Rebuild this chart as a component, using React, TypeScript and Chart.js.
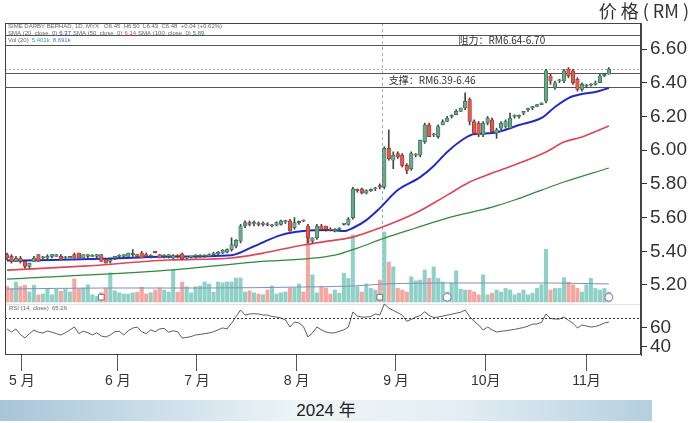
import React, { useEffect, useRef } from 'react';
import { Chart, registerables } from 'chart.js';

Chart.register(...registerables);

// ---------- DATA ----------
const openP = [
  5.38, 5.37, 5.34, 5.36, 5.34, 5.31, 5.34, 5.38, 5.36, 5.36, 5.37, 5.37, 5.37, 5.36, 5.36, 5.38, 5.39, 5.36, 5.37, 5.37,
  5.37, 5.38, 5.35, 5.34, 5.36, 5.37, 5.37, 5.37, 5.38, 5.38, 5.39, 5.38, 5.37, 5.40, 5.38, 5.37, 5.37, 5.36, 5.375, 5.385,
  5.36, 5.365, 5.37, 5.37, 5.37, 5.37, 5.38, 5.385, 5.39, 5.395, 5.41, 5.43, 5.46, 5.55, 5.57, 5.565, 5.565, 5.56, 5.56, 5.55,
  5.555, 5.56, 5.575, 5.58, 5.54, 5.57, 5.585, 5.55, 5.46, 5.48, 5.55, 5.55, 5.53, 5.52, 5.53, 5.56, 5.56, 5.60, 5.76, 5.77,
  5.745, 5.76, 5.77, 5.79, 5.78, 6.01, 5.94, 5.98, 5.97, 5.91, 5.89, 5.97, 5.97, 6.05, 6.15, 6.09, 6.08, 6.15, 6.17, 6.20,
  6.21, 6.23, 6.25, 6.30, 6.17, 6.16, 6.09, 6.16, 6.18, 6.10, 6.13, 6.14, 6.13, 6.20, 6.20, 6.22, 6.24, 6.25, 6.26, 6.27,
  6.29, 6.44, 6.37, 6.41, 6.41, 6.48, 6.47, 6.42, 6.36, 6.38, 6.385, 6.39, 6.40, 6.44, 6.45,
];
const highP = [
  5.39, 5.38, 5.37, 5.37, 5.34, 5.33, 5.37, 5.38, 5.37, 5.38, 5.38, 5.38, 5.38, 5.37, 5.37, 5.39, 5.39, 5.38, 5.38, 5.38,
  5.38, 5.38, 5.35, 5.36, 5.37, 5.38, 5.38, 5.39, 5.41, 5.38, 5.40, 5.39, 5.38, 5.40, 5.38, 5.38, 5.38, 5.38, 5.38, 5.39,
  5.37, 5.37, 5.38, 5.38, 5.38, 5.385, 5.395, 5.40, 5.41, 5.415, 5.48, 5.47, 5.56, 5.58, 5.58, 5.58, 5.575, 5.575, 5.57, 5.56,
  5.575, 5.585, 5.585, 5.59, 5.60, 5.58, 5.585, 5.56, 5.48, 5.56, 5.56, 5.55, 5.54, 5.535, 5.54, 5.565, 5.60, 5.78, 5.77, 5.775,
  5.765, 5.77, 5.78, 5.80, 6.02, 6.12, 5.99, 5.99, 5.98, 5.92, 5.99, 5.98, 6.06, 6.16, 6.16, 6.10, 6.15, 6.18, 6.20, 6.21,
  6.24, 6.25, 6.34, 6.31, 6.18, 6.17, 6.17, 6.20, 6.19, 6.13, 6.17, 6.18, 6.22, 6.21, 6.21, 6.23, 6.25, 6.26, 6.27, 6.28,
  6.48, 6.45, 6.41, 6.42, 6.48, 6.49, 6.48, 6.43, 6.40, 6.39, 6.395, 6.41, 6.45, 6.455, 6.49,
];
const lowP = [
  5.35, 5.33, 5.34, 5.33, 5.30, 5.30, 5.34, 5.34, 5.35, 5.35, 5.36, 5.37, 5.35, 5.35, 5.36, 5.36, 5.36, 5.36, 5.36, 5.37,
  5.36, 5.34, 5.33, 5.33, 5.35, 5.36, 5.36, 5.37, 5.37, 5.36, 5.36, 5.37, 5.36, 5.39, 5.36, 5.36, 5.36, 5.355, 5.36, 5.35,
  5.355, 5.36, 5.36, 5.365, 5.365, 5.37, 5.375, 5.38, 5.385, 5.39, 5.40, 5.42, 5.45, 5.54, 5.55, 5.55, 5.55, 5.55, 5.55, 5.545,
  5.55, 5.555, 5.565, 5.52, 5.53, 5.56, 5.575, 5.45, 5.45, 5.47, 5.53, 5.52, 5.52, 5.515, 5.525, 5.555, 5.555, 5.59, 5.75, 5.74,
  5.74, 5.755, 5.76, 5.77, 5.77, 5.94, 5.89, 5.95, 5.90, 5.86, 5.88, 5.96, 5.96, 6.04, 6.08, 6.08, 6.07, 6.15, 6.17, 6.19,
  6.21, 6.23, 6.24, 6.15, 6.09, 6.08, 6.08, 6.15, 6.10, 6.07, 6.12, 6.13, 6.13, 6.19, 6.19, 6.21, 6.23, 6.24, 6.26, 6.27,
  6.28, 6.39, 6.36, 6.40, 6.40, 6.43, 6.39, 6.35, 6.35, 6.37, 6.38, 6.385, 6.40, 6.435, 6.45,
];
const closeP = [
  5.36, 5.34, 5.36, 5.34, 5.31, 5.33, 5.36, 5.34, 5.36, 5.37, 5.38, 5.38, 5.35, 5.36, 5.37, 5.36, 5.36, 5.38, 5.38, 5.37,
  5.38, 5.34, 5.33, 5.35, 5.37, 5.37, 5.38, 5.39, 5.38, 5.37, 5.36, 5.37, 5.37, 5.39, 5.36, 5.37, 5.38, 5.375, 5.37, 5.355,
  5.365, 5.37, 5.37, 5.375, 5.375, 5.38, 5.39, 5.395, 5.405, 5.41, 5.44, 5.465, 5.55, 5.57, 5.56, 5.565, 5.56, 5.565, 5.555, 5.55,
  5.57, 5.58, 5.575, 5.52, 5.57, 5.575, 5.58, 5.48, 5.48, 5.55, 5.53, 5.53, 5.525, 5.53, 5.535, 5.56, 5.59, 5.77, 5.765, 5.745,
  5.76, 5.765, 5.775, 5.78, 6.01, 5.95, 5.97, 5.96, 5.91, 5.88, 5.98, 5.97, 6.06, 6.15, 6.08, 6.09, 6.14, 6.17, 6.19, 6.20,
  6.23, 6.25, 6.29, 6.17, 6.10, 6.09, 6.16, 6.19, 6.11, 6.12, 6.16, 6.17, 6.19, 6.20, 6.20, 6.23, 6.24, 6.26, 6.27, 6.28,
  6.47, 6.41, 6.40, 6.41, 6.47, 6.44, 6.40, 6.36, 6.39, 6.38, 6.39, 6.40, 6.44, 6.45, 6.48,
];
// volume, million shares
const volume = [
  3.9, 3.3, 5.0, 3.9, 4.2, 2.5, 4.2, 1.8, 2.0, 3.3, 1.8, 3.3, 2.7, 3.3, 2.5, 5.8, 3.3, 3.5, 4.3, 1.8,
  1.4, 2.3, 3.5, 7.3, 2.8, 2.3, 2.0, 2.0, 2.3, 2.5, 3.7, 2.0, 2.3, 3.0, 3.5, 3.0, 2.5, 8.0, 2.5, 5.0,
  3.8, 2.3, 3.8, 4.0, 5.0, 4.5, 2.5, 5.0, 4.8, 5.0, 5.0, 6.0, 6.0, 2.5, 2.8, 2.3, 2.0, 1.8, 3.0, 4.0,
  2.0, 2.3, 2.5, 3.5, 3.5, 4.5, 2.5, 18.0, 6.8, 2.3, 3.8, 3.5, 2.0, 3.0, 2.2, 7.2, 5.9, 16.8, 3.8, 2.5,
  4.5, 3.4, 3.0, 5.5, 17.5, 10.0, 8.8, 3.4, 3.0, 2.5, 6.3, 5.3, 5.5, 8.0, 5.9, 8.8, 5.9, 5.0, 2.5, 4.7,
  7.8, 3.2, 3.0, 3.0, 2.5, 1.8, 6.8, 1.8, 2.2, 3.0, 2.5, 3.4, 3.0, 1.8, 2.2, 3.0, 1.8, 2.2, 3.4, 4.3,
  13.2, 3.0, 3.4, 3.4, 6.1, 5.0, 4.3, 3.4, 2.5, 4.3, 5.9, 3.4, 3.0, 3.4, 2.5,
];
const rsi = [
  58, 54.7, 57.9, 52, 48.4, 53, 56.8, 54.5, 53.7, 55.8, 54.5, 53, 51.6, 54, 56.8, 60, 53, 55.5, 54, 51.6,
  54, 50.5, 49.5, 51.6, 55, 55.5, 51.6, 56, 58.9, 60, 55, 53, 57, 55, 58, 58.5, 54.5, 56, 55, 48.4,
  49, 50, 51.6, 52.2, 53, 53.7, 55, 57, 59, 58, 64, 71, 77.9, 72.6, 73.7, 74, 73.7, 72.6, 72.6, 71,
  70.5, 69.5, 67.4, 60, 65.3, 64.2, 60.5, 49.5, 53.7, 60, 57, 54.7, 53.7, 54, 55.5, 57, 60, 75.8, 71.5, 70.5,
  70.5, 71, 73.7, 72.6, 84.2, 80, 77.5, 75, 72.6, 66, 68, 70.5, 72, 76, 72, 70, 70.5, 71.5, 72.5, 73.5,
  74.5, 75.5, 77.9, 71, 66, 62.1, 56.8, 60, 57, 54.7, 55.5, 56, 56.8, 57.5, 58.5, 59.5, 61, 63, 63.2, 65,
  73.7, 69, 68.4, 68.4, 70.5, 67, 64, 58.9, 62.1, 61, 60, 60.5, 62, 64.2, 65.3,
];
// moving averages (candle index -> price)
const sma20Idx = [0, 10, 21, 35, 50, 55, 61, 66, 72, 75, 77, 80, 83, 87, 92, 95, 98, 102, 104, 108, 110, 114, 119, 122, 125, 128, 131, 134];
const sma20Val = [5.345, 5.348, 5.355, 5.368, 5.377, 5.43, 5.496, 5.52, 5.526, 5.52, 5.538, 5.585, 5.656, 5.763, 5.84, 5.906, 5.989, 6.072, 6.096, 6.101, 6.113, 6.149, 6.191, 6.256, 6.309, 6.333, 6.345, 6.369];
const sma50Idx = [0, 17, 36, 50, 57, 66, 73, 77, 83, 91, 98, 103, 108, 113, 120, 124, 128, 134];
const sma50Val = [5.288, 5.312, 5.348, 5.36, 5.389, 5.437, 5.466, 5.484, 5.538, 5.627, 5.733, 5.811, 5.864, 5.912, 5.989, 6.048, 6.078, 6.143];
const sma100Idx = [0, 36, 55, 73, 78, 84, 91, 98, 108, 113, 119, 124, 134];
const sma100Val = [5.235, 5.288, 5.336, 5.377, 5.419, 5.478, 5.538, 5.597, 5.662, 5.704, 5.763, 5.811, 5.894];
const volMaIdx = [0, 22, 44, 66, 77, 84, 99, 121, 134];
const volMaVal = [3.25, 3.5, 3.5, 3.75, 4.0, 4.5, 4.75, 4.75, 4.5];

const priceTicks = [5.2, 5.4, 5.6, 5.8, 6.0, 6.2, 6.4, 6.6];
const rsiTicks = [60, 40];
const rsiOverbought = 70;
const monthIdx = [3.3, 24.7, 42.3, 64.5, 86.6, 106.6, 129];
const monthLabels = ['5 月', '6 月', '7 月', '8 月', '9 月', '10月', '11月'];

const resistanceBand = [6.625, 6.685];
const supportBand = [6.375, 6.46];
const resistanceText = '阻力：RM6.64-6.70';
const supportText = '支撑：RM6.39-6.46';
const resistanceLabelIdx = 100.5;
const supportLabelIdx = 85;
const cursorIdx = 83.4;
const eventIdx = [21, 83, 98, 134];
const eventStyle = ['rect', 'rect', 'circle', 'circle'];
const eventColor = ['#777777', '#777777', '#8a6cc6', '#8a6cc6'];

const UP_BODY = '#6aa88c';
const UP_EDGE = '#2f6a50';
const DN_BODY = '#e25a4e';
const DN_EDGE = '#9c3028';
const UP_VOL = '#8fd1c7';
const DN_VOL = '#f4a6a1';

const FONT_NUM = "'Liberation Sans', Arial, 'Noto Sans CJK SC', sans-serif";
const FONT_CJK = "'Noto Sans CJK SC', 'Liberation Sans', sans-serif";

const overlay = {
  id: 'overlay',
  beforeDatasetsDraw(chart: any) {
    const { ctx, chartArea: a, scales } = chart;
    const yP = scales.y;
    const yR = scales.yRsi;
    const yV = scales.yVol;
    const x = scales.x;
    ctx.save();
    const hline = (y: number) => {
      ctx.beginPath();
      ctx.moveTo(a.left, y);
      ctx.lineTo(a.right, y);
      ctx.stroke();
    };
    // panel separator
    ctx.strokeStyle = '#e2e2e2';
    ctx.lineWidth = 1;
    hline(Math.round(yV.getPixelForValue(-0.6)) + 0.5);
    // last price dotted
    ctx.strokeStyle = '#aaaaaa';
    ctx.setLineDash([2, 2]);
    hline(Math.round(yP.getPixelForValue(closeP[closeP.length - 1])) + 0.5);
    // rsi 70 dashed
    ctx.strokeStyle = '#333333';
    ctx.setLineDash([2, 2]);
    hline(Math.round(yR.getPixelForValue(rsiOverbought)) + 0.5);
    // cursor
    ctx.strokeStyle = '#8fb0c0';
    ctx.setLineDash([3, 3]);
    const cx = Math.round(x.getPixelForValue(cursorIdx)) + 0.5;
    ctx.beginPath();
    ctx.moveTo(cx, a.top);
    ctx.lineTo(cx, yV.getPixelForValue(-0.6));
    ctx.stroke();
    ctx.setLineDash([]);
    // bands
    ctx.strokeStyle = '#555555';
    for (const v of [...resistanceBand, ...supportBand]) hline(Math.round(yP.getPixelForValue(v)) + 0.5);
    // band labels
    ctx.fillStyle = '#333333';
    ctx.font = `10px ${FONT_CJK}`;
    ctx.textBaseline = 'middle';
    ctx.textAlign = 'left';
    ctx.fillText(resistanceText, x.getPixelForValue(resistanceLabelIdx), yP.getPixelForValue((resistanceBand[0] + resistanceBand[1]) / 2));
    ctx.fillText(supportText, x.getPixelForValue(supportLabelIdx), yP.getPixelForValue((supportBand[0] + supportBand[1]) / 2));
    // header rows
    ctx.font = `6px ${FONT_NUM}`;
    ctx.fillStyle = '#666666';
    ctx.textBaseline = 'middle';
    const y1 = a.top + 3.5;
    ctx.fillText('SIME DARBY BERHAD, 1D, MYX   O6.45  H6.50  L6.43  C6.48  +0.04 (+0.62%)', a.left + 3, y1);
    let tx = a.left + 3;
    const seg = (t: string, c: string) => {
      ctx.fillStyle = c;
      ctx.fillText(t, tx, a.top + 10);
      tx += ctx.measureText(t).width + 2;
    };
    seg('SMA (20, close, 0)', '#666666');
    seg('6.37', '#2a3ac0');
    seg('SMA (50, close, 0)', '#666666');
    seg('6.14', '#e0445a');
    seg('SMA (100, close, 0)', '#666666');
    seg('5.89', '#2e8b3a');
    tx = a.left + 3;
    const seg2 = (t: string, c: string) => {
      ctx.fillStyle = c;
      ctx.fillText(t, tx, a.top + 17);
      tx += ctx.measureText(t).width + 3;
    };
    seg2('Vol (20)', '#666666');
    seg2('5.401k', '#3aa38f');
    seg2('8.691k', '#5a6fc0');
    // rsi header
    ctx.fillStyle = '#666666';
    ctx.fillText('RSI (14, close)  65.26', a.left + 4, yV.getPixelForValue(-1.6));
    ctx.restore();
  },
  afterDraw(chart: any) {
    const { ctx, chartArea: a, scales } = chart;
    const yR = scales.yRsi;
    ctx.save();
    ctx.strokeStyle = '#444444';
    ctx.lineWidth = 1;
    ctx.strokeRect(a.left + 0.5, a.top + 0.5, a.right - a.left - 1, a.bottom - a.top - 1);
    // rsi ticks on right
    ctx.fillStyle = '#333333';
    ctx.font = `19px ${FONT_NUM}`;
    ctx.textBaseline = 'middle';
    ctx.textAlign = 'left';
    for (const v of rsiTicks) {
      const y = Math.round(yR.getPixelForValue(v)) + 0.5;
      ctx.strokeStyle = '#333333';
      ctx.beginPath();
      ctx.moveTo(a.right, y);
      ctx.lineTo(a.right + 6, y);
      ctx.stroke();
      ctx.fillText(String(v), a.right + 9, y);
    }
    ctx.restore();
  },
};

export default function App() {
  const ref = useRef<HTMLCanvasElement | null>(null);
  useEffect(() => {
    document.body.style.margin = '0';
    const canvas = ref.current;
    if (!canvas) return;
    const idx = closeP.map((_, i) => i);
    const isUp = (i: number) => closeP[i] >= openP[i];
    const chart = new Chart(canvas, {
      type: 'bar',
      data: {
        datasets: [
          {
            type: 'bar',
            label: 'Volume',
            data: volume.map((v, i) => ({ x: i, y: v })),
            yAxisID: 'yVol',
            backgroundColor: idx.map((i) => (isUp(i) ? UP_VOL : DN_VOL)),
            barThickness: 3.4,
            grouped: false,
            order: 10,
          } as any,
          {
            type: 'line',
            label: 'Vol MA',
            data: volMaIdx.map((v, i) => ({ x: v, y: volMaVal[i] })),
            yAxisID: 'yVol',
            borderColor: '#7d8fc4',
            borderWidth: 1,
            pointRadius: 0,
            cubicInterpolationMode: 'monotone',
            order: 9,
          } as any,
          {
            type: 'line',
            label: 'SMA100',
            data: sma100Idx.map((v, i) => ({ x: v, y: sma100Val[i] })),
            yAxisID: 'y',
            borderColor: '#2e8b3a',
            borderWidth: 1.2,
            pointRadius: 0,
            cubicInterpolationMode: 'monotone',
            order: 6,
          } as any,
          {
            type: 'line',
            label: 'SMA50',
            data: sma50Idx.map((v, i) => ({ x: v, y: sma50Val[i] })),
            yAxisID: 'y',
            borderColor: '#e0445a',
            borderWidth: 1.6,
            pointRadius: 0,
            cubicInterpolationMode: 'monotone',
            order: 5,
          } as any,
          {
            type: 'line',
            label: 'SMA20',
            data: sma20Idx.map((v, i) => ({ x: v, y: sma20Val[i] })),
            yAxisID: 'y',
            borderColor: '#1f2cc4',
            borderWidth: 2,
            pointRadius: 0,
            cubicInterpolationMode: 'monotone',
            order: 4,
          } as any,
          {
            type: 'bar',
            label: 'Wick',
            data: idx.map((i) => ({ x: i, y: [lowP[i], highP[i]] })),
            yAxisID: 'y',
            backgroundColor: '#444444',
            barThickness: 1,
            grouped: false,
            order: 3,
          } as any,
          {
            type: 'bar',
            label: 'Body',
            data: idx.map((i) => ({ x: i, y: [openP[i], closeP[i]] })),
            yAxisID: 'y',
            backgroundColor: idx.map((i) => (isUp(i) ? UP_BODY : DN_BODY)),
            borderColor: idx.map((i) => (isUp(i) ? UP_EDGE : DN_EDGE)),
            borderWidth: 0.7,
            borderSkipped: false,
            barThickness: 3.6,
            minBarLength: 1.2,
            grouped: false,
            order: 2,
          } as any,
          {
            type: 'line',
            label: 'RSI',
            data: rsi.map((v, i) => ({ x: i, y: v })),
            yAxisID: 'yRsi',
            borderColor: '#333333',
            borderWidth: 0.8,
            pointRadius: 0,
            tension: 0,
            order: 1,
          } as any,
          {
            type: 'scatter',
            label: 'Events',
            data: eventIdx.map((v) => ({ x: v, y: 1.2 })),
            yAxisID: 'yVol',
            pointStyle: eventStyle,
            pointRadius: 4,
            pointBackgroundColor: '#ffffff',
            pointBorderColor: eventColor,
            pointBorderWidth: 1,
            order: 0,
          } as any,
        ],
      },
      options: {
        responsive: false,
        animation: false,
        devicePixelRatio: 1,
        events: [],
        layout: { padding: { top: 23, left: 1, right: 0, bottom: 0 } },
        plugins: { legend: { display: false }, tooltip: { enabled: false }, title: { display: false } },
        scales: {
          x: {
            type: 'linear',
            position: 'bottom',
            min: -0.44,
            max: 141.15,
            offset: false,
            grid: {
              display: true,
              offset: false,
              drawOnChartArea: false,
              drawTicks: true,
              tickLength: 16,
              color: '#555555',
              lineWidth: 1,
            },
            border: { display: false },
            ticks: {
              autoSkip: false,
              maxRotation: 0,
              padding: 2,
              color: '#333333',
              font: { size: 14, family: FONT_NUM },
              callback: (_v: any, i: number) => monthLabels[i],
            },
            afterBuildTicks: (s: any) => {
              s.ticks = monthIdx.map((v) => ({ value: v }));
            },
            afterFit: (s: any) => {
              s.height = 43;
            },
          },
          y: {
            type: 'linear',
            position: 'right',
            min: 4.7846,
            max: 6.7543,
            grid: { display: true, offset: false, drawOnChartArea: false, drawTicks: true, tickLength: 6, color: '#333333' },
            border: { display: true, color: '#444444' },
            ticks: {
              padding: 3,
              color: '#333333',
              font: { size: 19, family: FONT_NUM },
              callback: (v: any) => Number(v).toFixed(2),
            },
            afterBuildTicks: (s: any) => {
              s.ticks = priceTicks.map((v) => ({ value: v }));
            },
            afterFit: (s: any) => {
              s.width = 49;
            },
          },
          yVol: { type: 'linear', position: 'right', display: false, min: -13.25, max: 69.75 },
          yRsi: { type: 'linear', position: 'right', display: false, min: 30.53, max: 380 },
        },
      } as any,
      plugins: [overlay],
    });
    return () => chart.destroy();
  }, []);

  return (
    <div style={{ position: 'relative', width: 690, height: 423, background: '#ffffff', overflow: 'hidden' }}>
      <canvas ref={ref} width={690} height={398} style={{ display: 'block', width: 690, height: 398 }} />
      <div
        style={{
          position: 'absolute',
          top: -1,
          right: 1,
          fontFamily: FONT_CJK,
          fontSize: 18,
          color: '#333',
          lineHeight: '22px',
          whiteSpace: 'pre',
        }}
      >
        价 格 ( RM )
      </div>
      <div
        style={{
          position: 'absolute',
          top: 400,
          left: 0,
          width: 652,
          height: 21,
          background: 'linear-gradient(to right, #a7c5d8 0%, #c9dce8 22%, #eef5f8 46%, #e4eef4 70%, #b4cfdf 100%)',
          textAlign: 'center',
          fontFamily: FONT_NUM,
          fontSize: 17,
          lineHeight: '21px',
          color: '#222',
        }}
      >
        2024 年
      </div>
    </div>
  );
}
